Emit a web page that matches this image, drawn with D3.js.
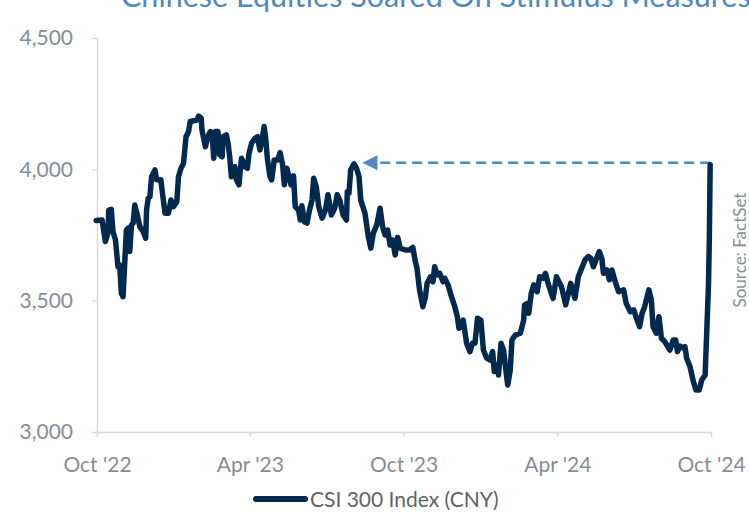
<!DOCTYPE html>
<html>
<head>
<meta charset="utf-8">
<script src="https://cdn.jsdelivr.net/npm/d3@7"></script>
<style>
  html, body { margin: 0; padding: 0; background: #ffffff; }
  svg { display: block; }
  text { font-family: Lato, "Open Sans", "Noto Sans", sans-serif; }
</style>
</head>
<body>
<svg id="chart" width="749" height="513"></svg>
<script>
// CSI 300 closing levels (CNY)
const dates = [
  "2022-09-30","2022-10-07","2022-10-11","2022-10-14","2022-10-15","2022-10-18","2022-10-20","2022-10-23","2022-10-26","2022-10-28",
  "2022-10-30","2022-11-01","2022-11-05","2022-11-07","2022-11-09","2022-11-11","2022-11-13","2022-11-15","2022-11-18","2022-11-21",
  "2022-11-25","2022-11-28","2022-11-29","2022-12-01","2022-12-03","2022-12-05","2022-12-09","2022-12-11","2022-12-16","2022-12-19",
  "2022-12-21","2022-12-25","2022-12-28","2022-12-31","2023-01-04","2023-01-06","2023-01-09","2023-01-12","2023-01-15","2023-01-18",
  "2023-01-20","2023-01-24","2023-01-28","2023-01-30","2023-02-02","2023-02-03","2023-02-07","2023-02-10","2023-02-13","2023-02-15",
  "2023-02-17","2023-02-19","2023-02-22","2023-02-24","2023-02-27","2023-02-28","2023-03-04","2023-03-06","2023-03-08","2023-03-10",
  "2023-03-14","2023-03-16","2023-03-19","2023-03-22","2023-03-24","2023-03-26","2023-03-29","2023-03-31","2023-04-03","2023-04-07",
  "2023-04-10","2023-04-13","2023-04-16","2023-04-18","2023-04-20","2023-04-22","2023-04-25","2023-04-27","2023-04-30","2023-05-04",
  "2023-05-07","2023-05-10","2023-05-12","2023-05-15","2023-05-17","2023-05-20","2023-05-23","2023-05-25","2023-05-29","2023-05-31",
  "2023-06-02","2023-06-05","2023-06-08","2023-06-11","2023-06-14","2023-06-16","2023-06-19","2023-06-22","2023-06-26","2023-06-30",
  "2023-07-03","2023-07-07","2023-07-11","2023-07-14","2023-07-17","2023-07-21","2023-07-25","2023-07-26","2023-07-28","2023-07-30",
  "2023-08-03","2023-08-06","2023-08-09","2023-08-11","2023-08-16","2023-08-20","2023-08-23","2023-08-26","2023-08-30","2023-09-03",
  "2023-09-06","2023-09-09","2023-09-12","2023-09-15","2023-09-18","2023-09-21","2023-09-24","2023-09-27","2023-10-03","2023-10-08",
  "2023-10-12","2023-10-15","2023-10-17","2023-10-20","2023-10-24","2023-10-27","2023-10-29","2023-11-02","2023-11-05","2023-11-07",
  "2023-11-10","2023-11-13","2023-11-17","2023-11-19","2023-11-23","2023-11-27","2023-12-01","2023-12-04","2023-12-06","2023-12-09",
  "2023-12-11","2023-12-13","2023-12-15","2023-12-19","2023-12-22","2023-12-25","2023-12-28","2024-01-01","2024-01-04","2024-01-08",
  "2024-01-12","2024-01-15","2024-01-17","2024-01-20","2024-01-22","2024-01-25","2024-01-28","2024-01-31","2024-02-02","2024-02-05",
  "2024-02-07","2024-02-11","2024-02-17","2024-02-21","2024-02-22","2024-02-26","2024-02-27","2024-03-01","2024-03-04","2024-03-08",
  "2024-03-11","2024-03-15","2024-03-18","2024-03-21","2024-03-27","2024-03-31","2024-04-06","2024-04-11","2024-04-17","2024-04-22",
  "2024-04-26","2024-04-30","2024-05-04","2024-05-08","2024-05-11","2024-05-14","2024-05-17","2024-05-21","2024-05-24","2024-05-26",
  "2024-05-30","2024-06-02","2024-06-05","2024-06-09","2024-06-13","2024-06-19","2024-06-22","2024-06-27","2024-07-01","2024-07-05",
  "2024-07-08","2024-07-11","2024-07-14","2024-07-19","2024-07-22","2024-07-24","2024-07-28","2024-07-31","2024-08-03","2024-08-07",
  "2024-08-13","2024-08-17","2024-08-20","2024-08-22","2024-08-25","2024-08-29","2024-08-31","2024-09-02","2024-09-06","2024-09-10",
  "2024-09-13","2024-09-17","2024-09-20","2024-09-24","2024-09-26","2024-09-28","2024-09-29","2024-09-30"
];
const csi300 = [
  3805,3807,3725,3758,3845,3848,3763,3731,3629,3636,
  3528,3515,3769,3776,3687,3788,3795,3864,3826,3782,
  3763,3738,3845,3890,3896,3972,3998,3960,3960,3883,
  3833,3833,3883,3858,3877,3972,4004,4023,4124,4144,
  4182,4185,4188,4203,4195,4150,4086,4124,4144,4137,
  4042,4144,4144,4055,4048,4124,4131,4099,4048,3972,
  4010,3960,3941,4042,4029,4010,4004,4061,4099,4118,
  4124,4074,4124,4163,4112,4036,3972,3960,4036,4036,
  4064,4017,3941,4004,3979,3941,3975,3858,3845,3807,
  3861,3800,3795,3845,3883,3966,3934,3858,3814,3845,
  3903,3826,3852,3903,3883,3826,3807,3915,3909,3998,
  4021,4004,3972,3883,3833,3744,3700,3757,3788,3852,
  3782,3750,3769,3712,3731,3674,3741,3700,3693,3693,
  3703,3649,3623,3541,3477,3515,3566,3591,3572,3629,
  3598,3604,3572,3585,3560,3515,3477,3439,3395,3401,
  3426,3382,3338,3306,3338,3338,3433,3426,3312,3281,
  3274,3306,3230,3255,3217,3338,3312,3230,3179,3236,
  3350,3369,3376,3426,3484,3490,3452,3528,3560,3534,
  3591,3585,3604,3566,3509,3591,3553,3484,3566,3509,
  3591,3623,3655,3668,3661,3629,3655,3687,3661,3604,
  3617,3579,3617,3572,3534,3541,3490,3458,3465,3426,
  3401,3452,3477,3541,3503,3401,3376,3439,3357,3344,
  3312,3350,3350,3306,3327,3319,3325,3281,3249,3192,
  3160,3160,3198,3217,3388,3560,3731,4017
];

// axis ticks
const yTicks = [3000, 3500, 4000, 4500];
const xTicks = ["2022-10-01", "2023-04-01", "2023-10-01", "2024-04-01", "2024-10-01"];
const xDomain = ["2022-10-01", "2024-10-01"];
const yDomain = [3000, 4500];

// arrow pointing back to the August 2023 level
const arrowTargetDate = "2023-08-13";

const titleText = "Chinese Equities Soared On Stimulus Measures";
const seriesName = "CSI 300 Index (CNY)";
const sourceText = "Source: FactSet";

const parse = d3.utcParse("%Y-%m-%d");
const data = dates.map((d, i) => ({ date: parse(d), value: csi300[i] }));

const svg = d3.select("#chart");
const plot = { left: 97, right: 711, top: 38, bottom: 432 };

const x = d3.scaleUtc().domain(xDomain.map(parse)).range([plot.left, plot.right]);
const y = d3.scaleLinear().domain(yDomain).range([plot.bottom, plot.top]);

const lineColor = "#022a4e";
const axisColor = "#d9d9d9";
const tickText = "#858e96";
const accent = "#4f88c2";

// title (runs past the top and right edges of the frame)
svg.append("text")
  .attr("x", 121).attr("y", 7)
  .attr("font-size", 30.5)
  .attr("fill", accent)
  .text(titleText);

// y axis
const yAxis = svg.append("g")
  .attr("transform", `translate(${plot.left},0)`)
  .call(d3.axisLeft(y).tickValues(yTicks).tickFormat(d3.format(",")).tickSize(5).tickSizeOuter(0).tickPadding(19));

// x axis
const xAxis = svg.append("g")
  .attr("transform", `translate(0,${plot.bottom})`)
  .call(d3.axisBottom(x).tickValues(xTicks.map(parse)).tickFormat(d3.utcFormat("%b '%y")).tickSize(5).tickSizeOuter(0).tickPadding(20));

[yAxis, xAxis].forEach(g => {
  g.select(".domain").attr("stroke", axisColor).attr("stroke-width", 1.5);
  g.selectAll(".tick line").attr("stroke", axisColor).attr("stroke-width", 1.5);
  g.selectAll(".tick text").attr("fill", tickText).attr("font-size", 21)
    .attr("font-family", "Lato, 'Open Sans', sans-serif");
});

// dashed arrow back to the earlier high
const last = data[data.length - 1];
const arrowY = y(last.value) - 2;
const tipX = x(parse(arrowTargetDate));
const headLen = 15, headHalf = 7.5;
svg.append("line")
  .attr("x1", x(last.date)).attr("x2", tipX + headLen)
  .attr("y1", arrowY).attr("y2", arrowY)
  .attr("stroke", accent).attr("stroke-width", 2.5)
  .attr("stroke-dasharray", "10,6");
svg.append("path")
  .attr("d", `M${tipX},${arrowY} L${tipX + headLen},${arrowY - headHalf} L${tipX + headLen},${arrowY + headHalf} Z`)
  .attr("fill", accent);

// index line
const line = d3.line().x(d => x(d.date)).y(d => y(d.value));
svg.append("path")
  .datum(data)
  .attr("d", line)
  .attr("fill", "none")
  .attr("stroke", lineColor)
  .attr("stroke-width", 5.5)
  .attr("stroke-linejoin", "round")
  .attr("stroke-linecap", "round");

// source note
svg.append("text")
  .attr("transform", "translate(746,250) rotate(-90)")
  .attr("text-anchor", "middle")
  .attr("font-size", 17)
  .attr("fill", tickText)
  .text(sourceText);

// legend
const legend = svg.append("g").attr("transform", "translate(0,499)");
legend.append("line")
  .attr("x1", 256).attr("x2", 305)
  .attr("stroke", lineColor).attr("stroke-width", 6)
  .attr("stroke-linecap", "round");
legend.append("text")
  .attr("x", 310).attr("y", 8)
  .attr("font-size", 21)
  .attr("fill", "#5d6367")
  .text(seriesName);
</script>
</body>
</html>
